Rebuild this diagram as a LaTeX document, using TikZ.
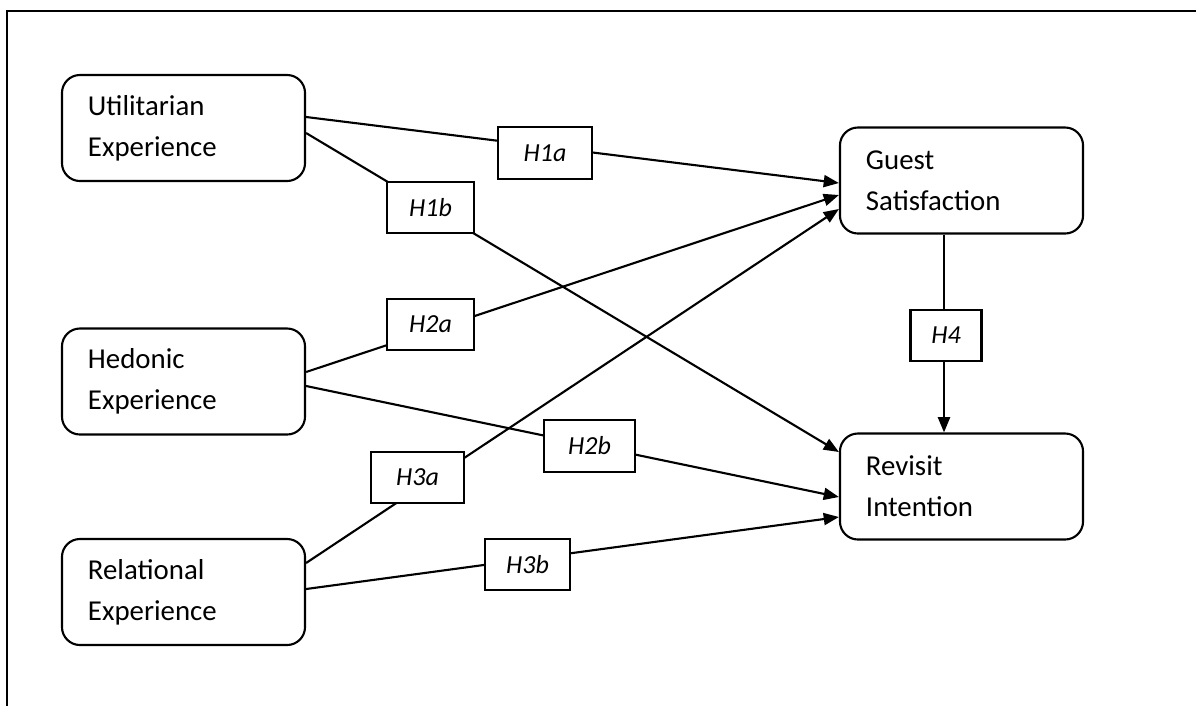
\documentclass[tikz,border=0pt]{standalone}
\usepackage{fontspec}
\setmainfont{Carlito}
\usetikzlibrary{arrows.meta,calc}

\begin{document}
\begin{tikzpicture}[x=0.025cm,y=-0.025cm,
    construct/.style={draw,line width=1.5pt,rounded corners=0.45cm,minimum width=6.075cm,minimum height=2.65cm,text width=4.775cm,inner xsep=0.65cm,align=left,font=\fontsize{20.5}{29}\selectfont},
    hyp/.style={draw,fill=white,line width=1.5pt,minimum width=2.2cm,minimum height=1.28cm,inner sep=0pt,font=\fontsize{18.5}{20}\selectfont\itshape},
    link/.style={line width=1.5pt},
    arr/.style={link,-{Triangle[length=0.38cm,width=0.3cm]}}]
        \useasboundingbox (0,0) rectangle (1196,706);
        \draw[line width=1.2pt] (1196,11) -- (7,11) -- (7,706);

        \node[construct] (util) at (183.5,128) {Utilitarian\\Experience};
        \node[construct] (hed) at (183.5,381.5) {Hedonic\\Experience};
        \node[construct] (rel) at (183.5,592) {Relational\\Experience};
        \node[construct] (sat) at (961.5,180.5) {Guest\\Satisfaction};
        \node[construct] (rev) at (961.5,486.5) {Revisit\\Intention};

        \draw[arr] ($(util.east)+(0,-11)$) -- ($(sat.west)+(0,2.5)$);
        \draw[arr] ($(util.east)+(0,5)$) -- ($(rev.west)+(0,-34.5)$);
        \draw[arr] ($(hed.east)+(0,-9.5)$) -- ($(sat.west)+(0,14.5)$);
        \draw[arr] ($(hed.east)+(0,4.5)$) -- ($(rev.west)+(0,10.5)$);
        \draw[arr] ($(rel.east)+(0,-29)$) -- ($(sat.west)+(0,28.5)$);
        \draw[arr] ($(rel.east)+(0,-3)$) -- ($(rev.west)+(0,30.5)$);
        \draw[arr] ($(sat.south)+(-17.5,0)$) -- ($(rev.north)+(-17.5,0)$);

        \node[hyp,minimum width=2.35cm] (h1a) at (545,153) {H1a};
        \node[hyp,minimum width=2.175cm] (h1b) at (430.5,207.5) {H1b};
        \node[hyp,minimum width=2.175cm] (h2a) at (430.5,324.5) {H2a};
        \node[hyp,minimum width=2.275cm] (h2b) at (589.5,446) {H2b};
        \node[hyp,minimum width=2.325cm] (h3a) at (417.5,477.5) {H3a};
        \node[hyp,minimum width=2.125cm] (h3b) at (527.5,564.5) {H3b};
        \node[hyp,minimum width=1.775cm] (h4) at (946,335.5) {H4};
\end{tikzpicture}
\end{document}
